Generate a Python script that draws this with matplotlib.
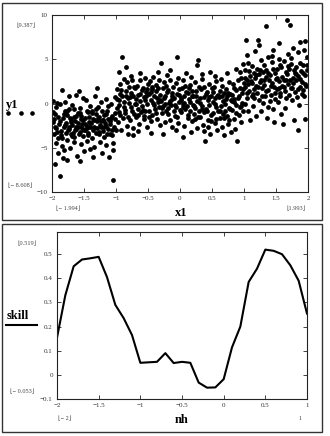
import matplotlib
matplotlib.use("Agg")
import matplotlib.pyplot as plt
from matplotlib.patches import Rectangle
from matplotlib.lines import Line2D

plt.rcParams['font.family'] = ['Liberation Serif', 'DejaVu Sans']
plt.rcParams['axes.unicode_minus'] = True

# ---------------- data ----------------
pts_left = [
    (-1.99, 0.3), (-1.98, -2.1), (-1.97, -3.4), (-1.96, -6.8), (-1.95, -1.2), (-1.94, -4.5), (-1.93, -2.8),
    (-1.92, 0.1), (-1.91, -3.9), (-1.90, -5.6), (-1.97, -1.7), (-1.93, -0.4),
    (-1.89, -2.3), (-1.88, -8.2), (-1.87, -0.1), (-1.86, -3.1), (-1.85, 1.5), (-1.84, -4.8), (-1.83, -1.6),
    (-1.82, -2.7), (-1.81, -5.3), (-1.80, -0.9), (-1.86, -3.6), (-1.83, -6.2),
    (-1.79, 0.2), (-1.78, -2.2), (-1.77, -4.1), (-1.76, -1.3), (-1.75, -3.0), (-1.74, 0.8), (-1.73, -2.6),
    (-1.72, -5.0), (-1.71, -1.9), (-1.70, -3.5), (-1.76, -6.4), (-1.73, -0.6),
    (-1.69, -2.4), (-1.68, -0.2), (-1.67, -3.3), (-1.66, -1.5), (-1.65, -4.4), (-1.64, -2.0), (-1.63, 1.0),
    (-1.62, -2.9), (-1.61, -5.9), (-1.60, -1.1), (-1.66, -3.8), (-1.63, -2.6),
    (-1.59, -2.7), (-1.58, 1.4), (-1.57, -0.5), (-1.56, -3.2), (-1.55, -1.8), (-1.54, -4.6), (-1.53, -2.3),
    (-1.52, 0.6), (-1.51, -3.7), (-1.50, -5.4), (-1.55, -1.4), (-1.52, -2.9), (-1.57, -6.5),
    (-1.49, -1.6), (-1.48, -3.0), (-1.47, 0.4), (-1.46, -2.5), (-1.45, -4.2), (-1.44, -1.0), (-1.43, -3.6),
    (-1.42, -2.1), (-1.41, -5.1), (-1.40, -0.3), (-1.46, -2.8),
    (-1.39, -2.2), (-1.38, -3.9), (-1.37, -0.8), (-1.36, -1.7), (-1.35, -4.9), (-1.34, -2.6), (-1.33, 0.9),
    (-1.32, -3.3), (-1.31, -1.2), (-1.30, 1.8), (-1.36, -6.0),
    (-1.29, -2.0), (-1.28, -0.4), (-1.27, -3.5), (-1.26, -1.5), (-1.25, -4.3), (-1.24, -2.7), (-1.23, 0.2),
    (-1.22, -5.6), (-1.21, -1.9), (-1.20, -3.1), (-1.25, -2.4),
    (-1.19, -1.3), (-1.18, -3.8), (-1.17, -2.2), (-1.16, 0.5), (-1.15, -4.7), (-1.14, -0.9), (-1.13, -2.9),
    (-1.12, -1.7), (-1.11, -6.1), (-1.10, -3.4), (-1.15, -2.5),
    (-1.09, -2.0), (-1.08, -0.1), (-1.07, -3.6), (-1.06, -1.4), (-1.05, -4.5), (-1.04, -8.6), (-1.03, -2.6),
    (-1.02, 0.7), (-1.01, -1.1), (-1.00, -3.0), (-1.05, -5.2),
    (-1.98, -1.0), (-1.95, -2.6), (-1.92, -3.2), (-1.90, -1.5), (-1.88, -2.0), (-1.85, -3.9), (-1.82, -1.2),
    (-1.80, -2.4), (-1.78, -3.3), (-1.76, -0.8), (-1.74, -2.9), (-1.72, -1.6), (-1.70, -2.1), (-1.68, -3.7),
    (-1.66, -0.6), (-1.64, -3.0), (-1.62, -1.4), (-1.60, -2.2), (-1.58, -3.5), (-1.56, -1.1), (-1.54, -2.6),
    (-1.52, -1.9), (-1.50, -3.0), (-1.48, -2.3), (-1.46, -0.9), (-1.44, -3.3), (-1.42, -1.5), (-1.40, -2.6),
    (-1.38, -1.1), (-1.36, -3.0), (-1.34, -1.9), (-1.32, -0.6), (-1.30, -2.8), (-1.28, -1.6), (-1.26, -3.2),
    (-1.24, -2.0), (-1.22, -0.9), (-1.20, -1.9), (-1.18, -2.7), (-1.16, -1.2), (-1.14, -3.5), (-1.12, -0.3),
    (-1.10, -2.3), (-1.08, -1.6), (-1.06, -3.0), (-1.02, -1.8),
]
pts_mid = [
    (-0.99, -0.5), (-0.98, 1.6), (-0.97, -2.1), (-0.96, 0.4), (-0.95, 3.6), (-0.94, -1.3), (-0.93, 2.2),
    (-0.92, -3.0), (-0.91, 0.9), (-0.90, 5.3), (-0.96, -0.2), (-0.93, 1.1),
    (-0.89, -1.6), (-0.88, 0.2), (-0.87, 2.8), (-0.86, -0.7), (-0.85, 4.1), (-0.84, 1.4), (-0.83, -2.5),
    (-0.82, 0.6), (-0.81, -3.4), (-0.80, 1.9), (-0.86, -1.1), (-0.83, 2.4),
    (-0.79, 0.1), (-0.78, -1.9), (-0.77, 1.2), (-0.76, -0.4), (-0.75, 2.6), (-0.74, -2.8), (-0.73, 0.8),
    (-0.72, -1.2), (-0.71, 1.7), (-0.70, -0.1), (-0.76, 3.1), (-0.73, -3.6),
    (-0.69, 0.5), (-0.68, -1.5), (-0.67, 2.0), (-0.66, -0.6), (-0.65, 1.0), (-0.64, -2.3), (-0.63, 0.3),
    (-0.62, 3.4), (-0.61, -1.0), (-0.60, 1.5), (-0.66, -3.1), (-0.63, 2.7),
    (-0.59, -0.3), (-0.58, 1.8), (-0.57, -1.8), (-0.56, 0.7), (-0.55, 2.9), (-0.54, -0.9), (-0.53, 1.3),
    (-0.52, -2.6), (-0.51, 0.0), (-0.50, 2.2), (-0.56, -1.4), (-0.53, 0.9),
    (-0.49, 1.1), (-0.48, -0.8), (-0.47, 2.5), (-0.46, -2.0), (-0.45, 0.4), (-0.44, 1.6), (-0.43, -1.3),
    (-0.42, 3.0), (-0.41, -0.2), (-0.40, 0.8), (-0.46, -3.3), (-0.43, 1.9),
    (-0.39, -0.6), (-0.38, 1.4), (-0.37, 2.1), (-0.36, -1.7), (-0.35, 0.2), (-0.34, 3.6), (-0.33, -0.4),
    (-0.32, 1.0), (-0.31, -2.4), (-0.30, 4.6), (-0.36, 0.6), (-0.33, 2.6),
    (-0.29, 0.3), (-0.28, -1.1), (-0.27, 1.7), (-0.26, -0.3), (-0.25, 2.4), (-0.24, -2.1), (-0.23, 0.9),
    (-0.22, -0.8), (-0.21, 1.3), (-0.20, 3.2), (-0.26, -3.5), (-0.23, 0.0),
    (-0.19, -0.5), (-0.18, 1.5), (-0.17, 0.1), (-0.16, -1.9), (-0.15, 2.7), (-0.14, -0.2), (-0.13, 0.8),
    (-0.12, -2.7), (-0.11, 1.9), (-0.10, -0.9), (-0.16, 3.8), (-0.13, 0.5),
    (-0.09, 0.6), (-0.08, -1.4), (-0.07, 2.3), (-0.06, -0.4), (-0.05, 1.1), (-0.04, 5.3), (-0.03, -2.2),
    (-0.02, 0.2), (-0.01, 1.6), (0.00, -0.7), (-0.06, -3.0), (-0.03, 2.9),
    (0.01, 0.4), (0.02, -1.0), (0.03, 1.8), (0.04, -0.1), (0.05, 2.6), (0.06, -2.5), (0.07, 0.9),
    (0.08, -0.6), (0.09, 1.3), (0.10, 3.4), (0.04, -3.8), (0.07, 0.1),
    (0.11, -0.3), (0.12, 1.2), (0.13, -1.6), (0.14, 0.5), (0.15, 2.1), (0.16, -0.9), (0.17, 3.0),
    (0.18, -2.0), (0.19, 0.8), (0.20, -0.2), (0.14, 1.7), (0.17, -3.2),
    (0.21, 0.9), (0.22, -1.2), (0.23, 2.4), (0.24, -0.5), (0.25, 1.4), (0.26, -2.8), (0.27, 0.3),
    (0.28, 4.9), (0.29, -0.8), (0.30, 1.9), (0.26, 4.3), (0.23, -1.8),
    (0.31, 0.1), (0.32, -1.5), (0.33, 1.6), (0.34, -0.3), (0.35, 2.8), (0.36, -2.4), (0.37, 0.7),
    (0.38, -1.0), (0.39, -4.2), (0.40, 1.1), (0.34, 3.3), (0.37, -3.1),
    (0.41, -0.6), (0.42, 1.3), (0.43, -1.9), (0.44, 0.4), (0.45, 2.2), (0.46, -0.2), (0.47, -3.4),
    (0.48, 0.9), (0.49, -1.3), (0.50, 1.7), (0.44, -2.6), (0.47, 3.6),
    (0.51, 0.2), (0.52, -1.1), (0.53, 1.9), (0.54, -2.2), (0.55, 0.6), (0.56, -0.4), (0.57, 2.5),
    (0.58, -3.0), (0.59, 1.0), (0.60, -0.9), (0.54, 3.1), (0.57, -1.7),
    (0.61, 0.7), (0.62, -1.6), (0.63, 1.4), (0.64, -0.3), (0.65, 2.0), (0.66, -2.7), (0.67, 0.3),
    (0.68, -3.6), (0.69, 1.2), (0.70, -0.8), (0.64, 2.8), (0.67, -1.2),
    (0.71, 0.0), (0.72, 1.6), (0.73, -1.4), (0.74, 0.8), (0.75, -2.3), (0.76, 2.4), (0.77, -0.5),
    (0.78, 1.1), (0.79, -3.2), (0.80, 0.4), (0.74, 3.5), (0.77, -1.9),
    (0.81, 1.0), (0.82, -0.7), (0.83, 2.2), (0.84, -1.8), (0.85, 0.5), (0.86, -2.9), (0.87, 1.5),
    (0.88, -0.2), (0.89, -4.2), (0.90, 2.7), (0.84, 0.2), (0.87, 3.9),
    (0.91, 0.6), (0.92, -1.3), (0.93, 1.8), (0.94, -0.4), (0.95, 2.9), (0.96, -2.1), (0.97, 1.2),
    (0.98, 4.5), (0.99, -0.9), (1.00, 2.3), (0.94, 3.6), (0.97, 0.1),
    (-0.98, 0.5), (-0.95, -1.0), (-0.92, 1.5), (-0.88, -0.4), (-0.85, 0.9), (-0.82, -1.5), (-0.78, 0.7),
    (-0.75, -0.9), (-0.72, 1.9), (-0.68, 0.0), (-0.65, -1.3), (-0.62, 1.1), (-0.58, -0.7), (-0.55, 0.4),
    (-0.52, 1.6), (-0.48, -1.5), (-0.45, 1.3), (-0.42, 0.1), (-0.38, -1.1), (-0.35, 1.7), (-0.32, 0.4),
    (-0.28, -0.5), (-0.25, 0.6), (-0.22, 2.0), (-0.18, -1.2), (-0.15, 0.3), (-0.12, 1.2), (-0.08, -0.2),
    (-0.05, -1.5), (-0.02, 1.0), (0.02, 0.6), (0.05, -0.4), (0.08, 2.0), (0.12, -1.3), (0.15, 0.2),
    (0.18, 1.4), (0.22, -0.3), (0.25, 0.9), (0.28, -1.5), (0.32, 0.6), (0.35, -0.6), (0.38, 1.9),
    (0.42, -0.9), (0.45, 0.7), (0.48, -2.0), (0.52, 1.3), (0.55, -0.1), (0.58, 0.8), (0.62, -0.8),
    (0.65, 0.9), (0.68, -1.6), (0.72, 0.5), (0.75, 1.2), (0.78, -0.6), (0.82, 0.3), (0.85, 1.8),
    (0.88, -1.1), (0.92, 0.9), (0.95, -0.3), (0.98, 1.6),
]
pts_right = [
    (1.01, 1.9), (1.02, 3.8), (1.03, 7.2), (1.04, 0.6), (1.05, 2.7), (1.06, -0.8), (1.07, 4.6),
    (1.08, 1.4), (1.09, 3.1), (1.10, -1.9), (1.04, 5.5), (1.07, 2.2), (1.02, 0.0),
    (1.11, 2.5), (1.12, 0.9), (1.13, 4.2), (1.14, -0.3), (1.15, 3.4), (1.16, 1.6), (1.17, 5.9),
    (1.18, 2.0), (1.19, -1.4), (1.20, 3.9), (1.14, 1.1), (1.17, 2.9),
    (1.21, 1.2), (1.22, 7.2), (1.23, 3.3), (1.24, 0.4), (1.25, 2.4), (1.26, 4.9), (1.27, -0.9),
    (1.28, 1.8), (1.29, 3.6), (1.30, 0.1), (1.24, 6.6), (1.27, 2.7),
    (1.31, 2.1), (1.32, 4.4), (1.33, 0.8), (1.34, 8.8), (1.35, 3.0), (1.36, -1.6), (1.37, 1.5),
    (1.38, 5.2), (1.39, 2.6), (1.40, 0.3), (1.34, 3.8), (1.37, -0.4),
    (1.41, 3.2), (1.42, 1.0), (1.43, 4.7), (1.44, 2.3), (1.45, -0.6), (1.46, 6.1), (1.47, 1.9),
    (1.48, 3.5), (1.49, 0.5), (1.50, 2.8), (1.44, 5.4), (1.47, -2.1),
    (1.51, 1.6), (1.52, 3.9), (1.53, 0.2), (1.54, 2.5), (1.55, 6.8), (1.56, 1.2), (1.57, 4.3),
    (1.58, -1.2), (1.59, 3.0), (1.60, 2.0), (1.54, 5.0), (1.57, 0.9),
    (1.61, -2.3), (1.62, 2.7), (1.63, 4.8), (1.64, 1.4), (1.65, 3.6), (1.66, 0.6), (1.67, 9.4),
    (1.68, 2.2), (1.69, 5.6), (1.70, 1.0), (1.64, -0.5), (1.67, 3.3),
    (1.71, 3.9), (1.72, 8.9), (1.73, 1.8), (1.74, 4.5), (1.75, 0.4), (1.76, 2.9), (1.77, 6.3),
    (1.78, -1.9), (1.79, 3.4), (1.80, 1.3), (1.74, 5.1), (1.77, 2.3),
    (1.81, 2.6), (1.82, 4.1), (1.83, 0.7), (1.84, 5.8), (1.85, 3.1), (1.86, -0.2), (1.87, 1.9),
    (1.88, 6.9), (1.89, 3.7), (1.90, 1.1), (1.84, -3.0), (1.87, 4.6),
    (1.91, 2.4), (1.92, 4.3), (1.93, 0.9), (1.94, 6.0), (1.95, 3.2), (1.96, -1.8), (1.97, 2.0),
    (1.98, 5.3), (1.99, 3.8), (1.92, 1.5), (1.96, 7.1),
    (1.02, 2.9), (1.05, 1.2), (1.08, 3.7), (1.12, 2.3), (1.15, 0.6), (1.18, 3.2), (1.22, 1.9),
    (1.25, 3.8), (1.28, 0.9), (1.32, 2.7), (1.35, 1.4), (1.38, 3.4), (1.42, 2.0), (1.45, 3.9),
    (1.48, 1.2), (1.52, 2.9), (1.55, 1.8), (1.58, 4.1), (1.62, 1.9), (1.65, 2.6), (1.68, 4.2),
    (1.72, 2.7), (1.75, 1.7), (1.78, 3.8), (1.82, 3.3), (1.85, 1.6), (1.88, 2.8), (1.92, 3.5),
    (1.95, 2.2), (1.98, 4.4),
]

nh = [-2.0, -1.9, -1.8, -1.7, -1.6, -1.5, -1.4, -1.3, -1.2, -1.1, -1.0,
      -0.9, -0.8, -0.7, -0.6, -0.5, -0.4, -0.3, -0.2, -0.1, 0.0,
      0.1, 0.2, 0.3, 0.4, 0.5, 0.6, 0.7, 0.8, 0.9, 1.0]
skill = [0.154, 0.33, 0.45, 0.478, 0.483, 0.489, 0.405, 0.29, 0.235, 0.165, 0.05,
         0.052, 0.054, 0.09, 0.049, 0.054, 0.05, -0.032, -0.053, -0.052, -0.018,
         0.114, 0.2, 0.385, 0.44, 0.519, 0.514, 0.5, 0.454, 0.39, 0.254]

x1_ticks = [-2, -1.5, -1, -0.5, 0, 0.5, 1, 1.5, 2]
x1_labels = ['\u22122', '\u22121.5', '\u22121', '\u22120.5', '0', '0.5', '1', '1.5', '2']
y1_ticks = [-10, -5, 0, 5, 10]
y1_labels = ['\u221210', '\u22125', '0', '5', '10']
nh_ticks = [-2, -1.5, -1, -0.5, 0, 0.5, 1]
nh_labels = ['\u22122', '\u22121.5', '\u22121', '\u22120.5', '0', '0.5', '1']
sk_ticks = [-0.1, 0, 0.1, 0.2, 0.3, 0.4, 0.5]
sk_labels = ['\u22120.1', '0', '0.1', '0.2', '0.3', '0.4', '0.5']

# ---------------- figure ----------------
W, H = 330, 436
fig = plt.figure(figsize=(W / 100, H / 100), dpi=100)
fig.patch.set_facecolor('white')


def fx(x):
    return x / W


def fy(y):
    return 1 - y / H


def axes_px(l, t, r, b):
    return fig.add_axes([fx(l), fy(b), (r - l) / W, (b - t) / H])


def style(ax):
    for s in ax.spines.values():
        s.set_linewidth(0.8)
        s.set_color('#222222')
    ax.tick_params(direction='in', length=3, width=0.6, colors='#222222',
                   labelsize=5, pad=3, top=True, right=True,
                   labelcolor='#333333')


# panel borders
fig.add_artist(Rectangle((fx(2), fy(220)), 320 / W, 217 / H, transform=fig.transFigure,
                         fill=False, lw=1.0, ec='#333333'))
fig.add_artist(Rectangle((fx(2), fy(432)), 320 / W, 208 / H, transform=fig.transFigure,
                         fill=False, lw=1.0, ec='#333333'))

# top scatter
ax1 = axes_px(52, 15, 308, 192)
allpts = pts_left + pts_mid + pts_right
xs = [p[0] for p in allpts]
ys = [p[1] for p in allpts]
ax1.scatter(xs, ys, s=12, c='black', linewidths=0)
ax1.set_xlim(-2, 2)
ax1.set_ylim(-10, 10)
ax1.set_xticks(x1_ticks)
ax1.set_xticklabels(x1_labels)
ax1.set_yticks(y1_ticks)
ax1.set_yticklabels(y1_labels)
style(ax1)

# bottom line
ax2 = axes_px(57, 232, 307, 399)
ax2.plot(nh, skill, color='black', lw=1.5)
ax2.set_xlim(-2, 1)
ax2.set_ylim(-0.1, 0.592)
ax2.set_xticks(nh_ticks)
ax2.set_xticklabels(nh_labels)
ax2.set_yticks(sk_ticks)
ax2.set_yticklabels(sk_labels)
style(ax2)

# labels & annotations
small = dict(fontsize=4.5, color='#444444')
fig.text(fx(12), fy(105), 'y1', fontsize=9, fontweight='bold', ha='center', va='center')
fig.add_artist(Line2D([fx(8.3), fx(20.7), fx(32.3)], [fy(113)] * 3, transform=fig.transFigure,
                      marker='o', ms=3.3, color='black', ls='none', mew=0))
fig.text(fx(26), fy(25), '\u230a9.387\u230b', ha='center', va='center', **small)
fig.text(fx(20), fy(185), '\u230a\u2212 8.608\u230b', ha='center', va='center', **small)
fig.text(fx(68), fy(208), '\u230a\u2212 1.994\u230b', ha='center', va='center', **small)
fig.text(fx(181), fy(213), 'x1', fontsize=9, fontweight='bold', ha='center', va='center')
fig.text(fx(296), fy(208), '\u230a1.993\u230b', ha='center', va='center', **small)

fig.text(fx(27), fy(243), '\u230a0.519\u230b', ha='center', va='center', **small)
fig.text(fx(18), fy(316), 'skill', fontsize=9, fontweight='bold', ha='center', va='center')
fig.add_artist(Line2D([fx(6), fx(37)], [fy(325), fy(325)], transform=fig.transFigure,
                      color='black', lw=1.5))
fig.text(fx(22), fy(391), '\u230a\u2212 0.053\u230b', ha='center', va='center', **small)
fig.text(fx(65), fy(418), '\u230a\u2212 2\u230b', ha='center', va='center', **small)
fig.text(fx(182), fy(420), 'nh', fontsize=9, fontweight='bold', ha='center', va='center')
fig.text(fx(300), fy(418), '1', ha='center', va='center', **small)

fig.savefig('out.png', dpi=100, facecolor='white')
